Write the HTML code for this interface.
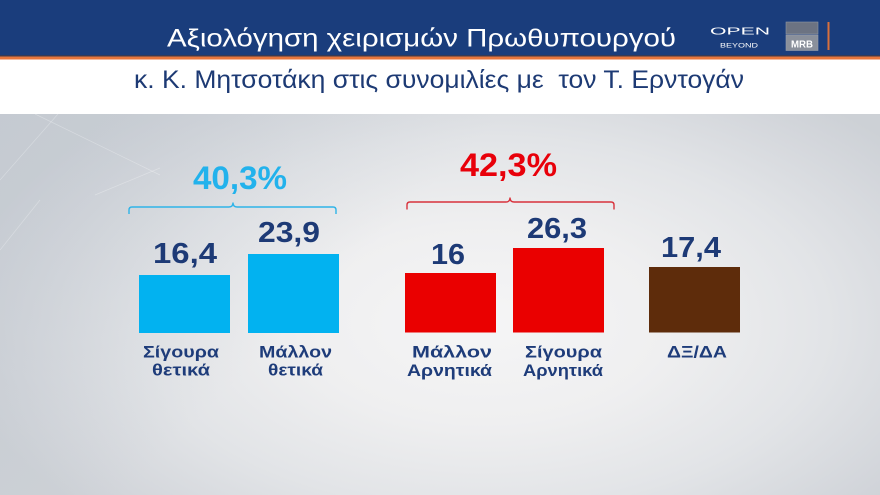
<!DOCTYPE html>
<html>
<head>
<meta charset="utf-8">
<style>
html,body{margin:0;padding:0;}
body{width:880px;height:495px;overflow:hidden;position:relative;font-family:"Liberation Sans","DejaVu Sans",sans-serif;}
.bg{position:absolute;left:0;top:114px;width:880px;height:381px;
background:radial-gradient(ellipse 60% 75% at 55% 55%, #f5f5f6 0%, #efeff0 35%, #e2e4e7 65%, #d3d6db 90%, #cdd1d6 100%);}
.bg2{position:absolute;left:0;top:114px;width:880px;height:381px;
background:linear-gradient(135deg, rgba(190,197,206,0.55) 0%, rgba(200,205,212,0.0) 40%);}
svg{position:absolute;left:0;top:0;}
</style>
</head>
<body>
<div class="bg"></div>
<div class="bg2"></div>
<svg width="880" height="495" viewBox="0 0 880 495" xmlns="http://www.w3.org/2000/svg">
  <!-- header -->
  <rect x="0" y="0" width="880" height="56" fill="#1a3d7c"/>
  <rect x="0" y="55" width="880" height="1.5" fill="#3a3a52"/>
  <rect x="0" y="56.5" width="880" height="3" fill="#e8763c"/>
  <rect x="0" y="59.5" width="880" height="54.5" fill="#ffffff"/>

  <!-- faint background lines -->
  <g stroke="#ffffff" stroke-opacity="0.3" stroke-width="0.7" fill="none">
    <line x1="0" y1="180" x2="58" y2="114"/>
    <line x1="35" y1="114" x2="160" y2="175"/>
    <line x1="95" y1="195" x2="160" y2="168"/>
    <line x1="0" y1="250" x2="40" y2="200"/>
  </g>

  <text x="167" y="46.5" font-family="Liberation Sans, sans-serif" font-size="25" fill="#ffffff" textLength="509" lengthAdjust="spacingAndGlyphs">Αξιολόγηση χειρισμών Πρωθυπουργού</text>

  <!-- OPEN logo -->
  <text x="710" y="34.5" font-family="Liberation Sans, sans-serif" font-size="10" fill="#ffffff" textLength="60" lengthAdjust="spacingAndGlyphs">OPEN</text>
  <text x="720" y="47.3" font-family="Liberation Sans, sans-serif" font-size="6" fill="#ffffff" textLength="38" lengthAdjust="spacingAndGlyphs">BEYOND</text>

  <!-- MRB -->
  <rect x="786" y="22" width="32" height="12" fill="#6c7382" stroke="#8f96a3" stroke-width="0.6"/>
  <rect x="786" y="35" width="32" height="15.5" fill="#8a909b" stroke="#9aa0ab" stroke-width="0.6"/>
  <text x="802" y="47.5" text-anchor="middle" font-family="Liberation Sans, sans-serif" font-weight="bold" font-size="10" fill="#ffffff" textLength="22" lengthAdjust="spacingAndGlyphs">MRB</text>
  <rect x="827.5" y="22" width="2" height="28" fill="#d8703c"/>

  <!-- subtitle -->
  <text x="134" y="88" xml:space="preserve" font-family="Liberation Sans, sans-serif" font-size="25" fill="#1d3a74" textLength="610" lengthAdjust="spacingAndGlyphs">κ. Κ. Μητσοτάκη στις συνομιλίες με  τον Τ. Ερντογάν</text>

  <!-- braces -->
  <path d="M129,214 L129,210 Q129,207 132,207 L229,207 Q233,207 233,202.5 Q233,207 237,207 L333,207 Q336,207 336,210 L336,214" fill="none" stroke="#2fb4e8" stroke-width="1.4"/>
  <path d="M407,209.5 L407,205 Q407,202 410,202 L506,202 Q510,202 510,197.5 Q510,202 514,202 L611,202 Q614,202 614,205 L614,209.5" fill="none" stroke="#d8323c" stroke-width="1.4"/>

  <!-- group totals -->
  <text x="193" y="189" font-family="Liberation Sans, sans-serif" font-weight="bold" font-size="32" fill="#22b2ec" textLength="94" lengthAdjust="spacingAndGlyphs">40,3%</text>
  <text x="460" y="176" font-family="Liberation Sans, sans-serif" font-weight="bold" font-size="32" fill="#e8000a" textLength="97" lengthAdjust="spacingAndGlyphs">42,3%</text>

  <!-- bars -->
  <rect x="139" y="275" width="91" height="58" fill="#02b2f0"/>
  <rect x="248" y="254" width="91" height="79" fill="#02b2f0"/>
  <rect x="405" y="273" width="91" height="59.5" fill="#ea0000"/>
  <rect x="513" y="248" width="91" height="84.5" fill="#ea0000"/>
  <rect x="649" y="267" width="91" height="65.5" fill="#5e2c0b"/>

  <!-- values -->
  <g font-family="Liberation Sans, sans-serif" font-weight="bold" font-size="29" fill="#1d3a76">
    <text x="153" y="263" textLength="64" lengthAdjust="spacingAndGlyphs">16,4</text>
    <text x="258" y="242" textLength="62" lengthAdjust="spacingAndGlyphs">23,9</text>
    <text x="431" y="264" textLength="34" lengthAdjust="spacingAndGlyphs">16</text>
    <text x="527" y="238" textLength="60" lengthAdjust="spacingAndGlyphs">26,3</text>
    <text x="661" y="257" textLength="60" lengthAdjust="spacingAndGlyphs">17,4</text>
  </g>

  <!-- labels -->
  <g font-family="Liberation Sans, sans-serif" font-weight="bold" font-size="17" fill="#1e3c7a">
    <text x="143" y="357.5" textLength="76" lengthAdjust="spacingAndGlyphs">Σίγουρα</text>
    <text x="152" y="375.5" textLength="58" lengthAdjust="spacingAndGlyphs">θετικά</text>
    <text x="259" y="357.5" textLength="73" lengthAdjust="spacingAndGlyphs">Μάλλον</text>
    <text x="268" y="375.5" textLength="55" lengthAdjust="spacingAndGlyphs">θετικά</text>
    <text x="412" y="357.5" textLength="80" lengthAdjust="spacingAndGlyphs">Μάλλον</text>
    <text x="407" y="376" textLength="85" lengthAdjust="spacingAndGlyphs">Αρνητικά</text>
    <text x="525" y="357.5" textLength="77" lengthAdjust="spacingAndGlyphs">Σίγουρα</text>
    <text x="523" y="376" textLength="80" lengthAdjust="spacingAndGlyphs">Αρνητικά</text>
    <text x="667" y="357.5" textLength="60" lengthAdjust="spacingAndGlyphs">ΔΞ/ΔΑ</text>
  </g>
</svg>
</body>
</html>
